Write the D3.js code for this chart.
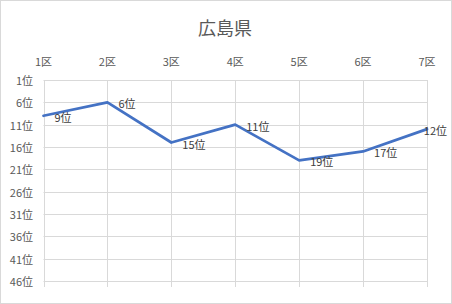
<!DOCTYPE html>
<html>
<head>
<meta charset="utf-8">
<script src="https://cdn.jsdelivr.net/npm/d3@7"></script>
<style>
  html, body { margin: 0; padding: 0; background: #fff; }
  svg { display: block; font-family: "Noto Sans CJK JP", "Noto Sans", sans-serif; }
</style>
</head>
<body>
<svg id="chart" width="452" height="304"></svg>
<script>
const title = '広島県';
const districts = ['1区', '2区', '3区', '4区', '5区', '6区', '7区'];
const ranks = [9, 6, 15, 11, 19, 17, 12];
const rankTicks = [1, 6, 11, 16, 21, 26, 31, 36, 41, 46];

const W = 452, H = 304;
const margin = { top: 80, right: 25, bottom: 23, left: 43.5 };

const svg = d3.select('#chart');

// chart area border
svg.append('rect')
  .attr('x', 0.5).attr('y', 0.5)
  .attr('width', W - 1).attr('height', H - 1)
  .attr('fill', '#fff')
  .attr('stroke', '#d9d9d9');

svg.append('text')
  .attr('x', 225).attr('y', 27)
  .attr('text-anchor', 'middle')
  .attr('dominant-baseline', 'central')
  .attr('font-size', 18)
  .attr('fill', '#595959')
  .text(title);

const x = d3.scalePoint().domain(districts).range([margin.left, W - margin.right]);
const y = d3.scaleLinear().domain([1, 46]).range([margin.top, H - margin.bottom]);

// Horizontal gridlines
svg.append('g')
  .selectAll('line')
  .data(rankTicks)
  .join('line')
  .attr('x1', margin.left).attr('x2', W - margin.right)
  .attr('y1', d => Math.round(y(d)) + 0.5).attr('y2', d => Math.round(y(d)) + 0.5)
  .attr('stroke', '#d9d9d9');

// Vertical gridlines, extended a bit below for the tick marks
svg.append('g')
  .selectAll('line')
  .data(districts)
  .join('line')
  .attr('x1', d => Math.round(x(d)) + 0.5).attr('x2', d => Math.round(x(d)) + 0.5)
  .attr('y1', margin.top).attr('y2', H - margin.bottom + 6)
  .attr('stroke', '#d9d9d9');

// Category labels on top
svg.append('g')
  .selectAll('text')
  .data(districts)
  .join('text')
  .attr('x', d => x(d)).attr('y', 61)
  .attr('text-anchor', 'middle')
  .attr('dominant-baseline', 'central')
  .attr('font-size', 11)
  .attr('fill', '#595959')
  .text(d => d);

// Rank labels on the left
svg.append('g')
  .selectAll('text')
  .data(rankTicks)
  .join('text')
  .attr('x', 33).attr('y', d => y(d))
  .attr('text-anchor', 'end')
  .attr('dominant-baseline', 'central')
  .attr('font-size', 11)
  .attr('fill', '#595959')
  .text(d => d + '位');

const pts = districts.map((d, i) => ({ d, r: ranks[i] }));

const line = d3.line().x(p => x(p.d)).y(p => y(p.r));

svg.append('path')
  .datum(pts)
  .attr('fill', 'none')
  .attr('stroke', '#4472c4')
  .attr('stroke-width', 2.75)
  .attr('stroke-linejoin', 'round')
  .attr('stroke-linecap', 'round')
  .attr('d', line);

// Data labels to the right of each point, pushed back inside the chart if they'd overflow
svg.append('g')
  .selectAll('text')
  .data(pts)
  .join('text')
  .attr('y', p => y(p.r) + 1)
  .attr('dominant-baseline', 'central')
  .attr('font-size', 11)
  .attr('fill', '#404040')
  .text(p => p.r + '位')
  .attr('x', function (p) {
    const w = this.getComputedTextLength();
    return Math.min(x(p.d) + 11, W - 5 - w);
  });
</script>
</body>
</html>
